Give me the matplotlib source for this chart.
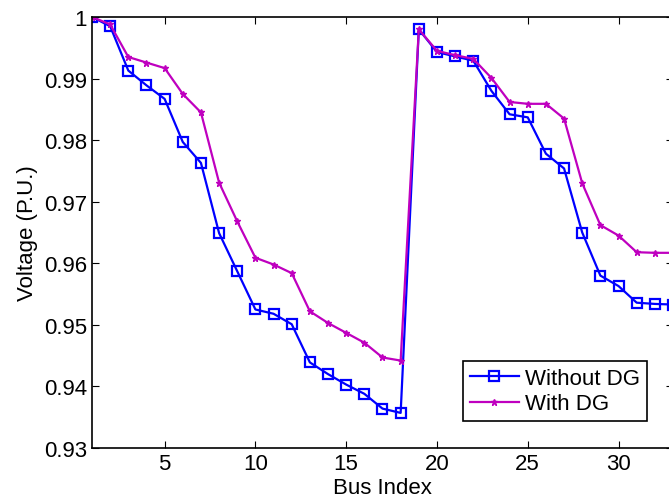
import matplotlib
matplotlib.use("Agg")
import matplotlib.pyplot as plt
import numpy as np

plt.rcParams['font.family'] = ['Liberation Sans', 'DejaVu Sans']

bus = list(range(1, 34))
without_dg = [1.0, 0.9985, 0.9913, 0.9889, 0.9867, 0.9797, 0.9763, 0.9649, 0.9587,
              0.9525, 0.9518, 0.9501, 0.9439, 0.9420, 0.9403, 0.9388, 0.9364, 0.9357,
              0.9980, 0.9943, 0.9936, 0.9929, 0.9880, 0.9842, 0.9837, 0.9778, 0.9754,
              0.9650, 0.9580, 0.9563, 0.9536, 0.9534, 0.9533]
with_dg = [1.0, 0.9988, 0.9935, 0.9926, 0.9917, 0.9875, 0.9845, 0.9731, 0.9668,
           0.9609, 0.9598, 0.9584, 0.9522, 0.9503, 0.9487, 0.9471, 0.9447, 0.9442,
           0.9980, 0.9945, 0.9938, 0.9932, 0.9901, 0.9862, 0.9859, 0.9859, 0.9835,
           0.9730, 0.9662, 0.9645, 0.9618, 0.9617, 0.9617]
xticks = [5, 10, 15, 20, 25, 30]
yticks = [0.93, 0.94, 0.95, 0.96, 0.97, 0.98, 0.99, 1.0]
ytick_labels = ['0.93', '0.94', '0.95', '0.96', '0.97', '0.98', '0.99', '1']

fig = plt.figure(figsize=(6.69, 5.02), dpi=100)
ax = fig.add_axes([92/669, 53/502, 581/669, 431/502])

ax.plot(bus, without_dg, color='#0000ff', lw=1.6, marker='s', ms=7.5,
        mfc='none', mec='#0000ff', mew=1.6, label='Without DG')
ax.plot(bus, with_dg, color='#bf00bf', lw=1.6, marker='*', ms=5,
        mfc='#bf00bf', mec='#bf00bf', mew=1.0, label='With DG')

ax.set_xlim(1, 33)
ax.set_ylim(0.93, 1.0)
ax.set_xticks(xticks)
ax.set_yticks(yticks)
ax.set_yticklabels(ytick_labels)
ax.tick_params(direction='in', top=True, right=True, labelsize=16, length=5, width=0.8)
for s in ax.spines.values():
    s.set_linewidth(1.2)
ax.set_xlabel('Bus Index', fontsize=16, labelpad=2)
ax.set_ylabel('Voltage (P.U.)', fontsize=16, labelpad=4)

leg = ax.legend(loc='lower left', bbox_to_anchor=(463/669, 80/502),
                bbox_transform=fig.transFigure, borderaxespad=0,
                fontsize=16, fancybox=False, framealpha=1, edgecolor='black',
                handlelength=2.2, handletextpad=0.3, borderpad=0.3, labelspacing=0.2)
leg.get_frame().set_linewidth(1.2)

fig.savefig('out.png', dpi=100)
